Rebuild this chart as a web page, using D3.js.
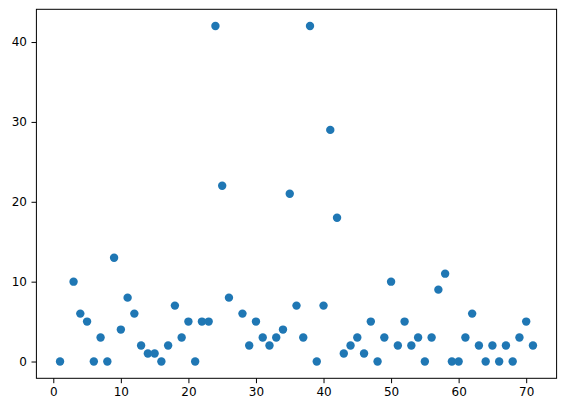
<!DOCTYPE html>
<html>
<head>
<meta charset="utf-8">
<script src="https://cdn.jsdelivr.net/npm/d3@7"></script>
<style>
  html, body { margin: 0; padding: 0; background: #fff; }
  svg { display: block; }
  text { font-family: "DejaVu Sans", sans-serif; }
</style>
</head>
<body>
<script>
const xValues = [1,3,4,5,6,7,8,9,10,11,12,13,14,15,16,17,18,19,20,21,22,23,24,25,26,28,29,30,31,32,33,34,35,36,37,38,39,40,41,42,43,44,45,46,47,48,49,50,51,52,53,54,55,56,57,58,59,60,61,62,63,64,65,66,67,68,69,70,71];
const yValues = [0,10,6,5,0,3,0,13,4,8,6,2,1,1,0,2,7,3,5,0,5,5,42,22,8,6,2,5,3,2,3,4,21,7,3,42,0,7,29,18,1,2,3,1,5,0,3,10,2,5,2,3,0,3,9,11,0,0,3,6,2,0,2,0,2,0,3,5,2];
const xTicks = [0,10,20,30,40,50,60,70];
const yTicks = [0,10,20,30,40];

const W = 566, H = 411;
const mLeft = 36.4, mRight = 556.6, mTop = 9.3, mBottom = 378.3;

const svg = d3.select("body").append("svg").attr("width", W).attr("height", H);

const xMin = d3.min(xValues), xMax = d3.max(xValues);
const yMin = d3.min(yValues), yMax = d3.max(yValues);
const xm = (xMax - xMin) * 0.05, ym = (yMax - yMin) * 0.05;

const x = d3.scaleLinear().domain([xMin - xm, xMax + xm]).range([mLeft, mRight]);
const y = d3.scaleLinear().domain([yMin - ym, yMax + ym]).range([mBottom, mTop]);

const xAxis = svg.append("g").attr("transform", `translate(0,${mBottom})`)
  .call(d3.axisBottom(x).tickValues(xTicks).tickFormat(d3.format("d")).tickSizeOuter(0).tickSize(4.9).tickPadding(4.5));
const yAxis = svg.append("g").attr("transform", `translate(${mLeft},0)`)
  .call(d3.axisLeft(y).tickValues(yTicks).tickFormat(d3.format("d")).tickSizeOuter(0).tickSize(4.9).tickPadding(4.5));

[xAxis, yAxis].forEach(g => {
  g.select(".domain").remove();
  g.selectAll("line").attr("stroke", "#000").attr("stroke-width", 1);
  g.selectAll("text").attr("fill", "#000").style("font-size", "12px").style("font-family", "DejaVu Sans, sans-serif");
});

svg.append("g").selectAll("circle")
  .data(xValues.map((d, i) => [d, yValues[i]]))
  .join("circle")
  .attr("cx", d => x(d[0]))
  .attr("cy", d => y(d[1]))
  .attr("r", 4.2)
  .attr("fill", "#1f77b4");

svg.append("rect")
  .attr("x", mLeft).attr("y", mTop)
  .attr("width", mRight - mLeft).attr("height", mBottom - mTop)
  .attr("fill", "none").attr("stroke", "#000").attr("stroke-width", 1);
</script>
</body>
</html>
